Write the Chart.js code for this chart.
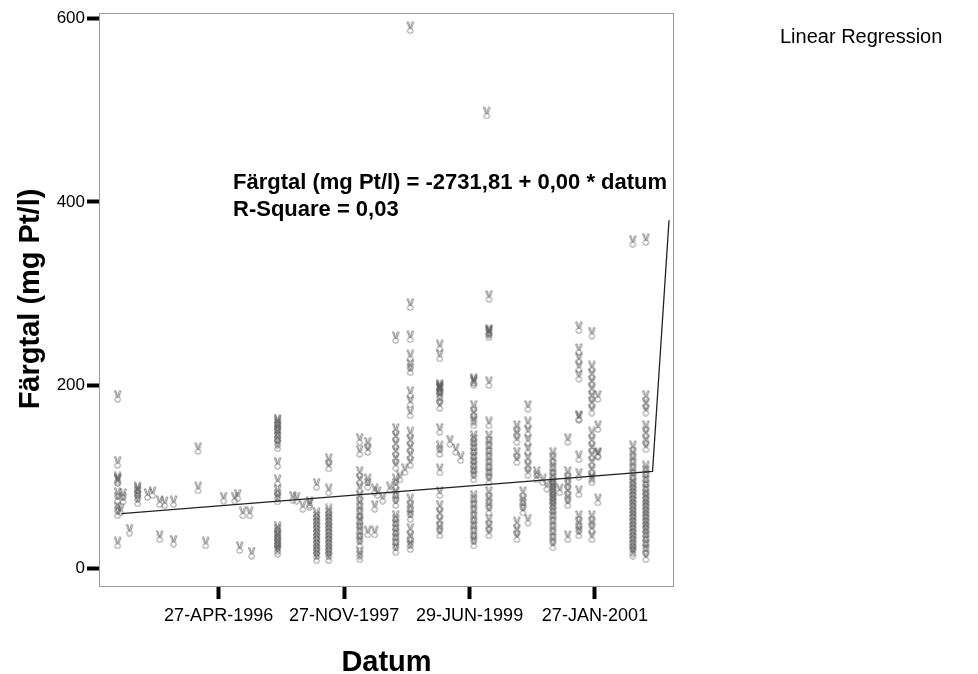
<!DOCTYPE html>
<html>
<head>
<meta charset="utf-8">
<script src="https://cdn.jsdelivr.net/npm/chart.js@4.4.1/dist/chart.umd.min.js"></script>
<style>
  html, body { margin: 0; padding: 0; background: #ffffff; }
  #wrap { width: 978px; height: 674px; }
</style>
</head>
<body>
<div id="wrap"><canvas id="chart" width="978" height="674"></canvas></div>
<script>
// Sampling dates and the colour values (Färgtal, mg Pt/l) measured on each date
const sampleDates = [
  '1995-01-17', '1995-01-31', '1995-02-11', '1995-03-13', '1995-04-19', '1995-06-04',
  '1995-06-27', '1995-07-30', '1995-08-22', '1995-10-02', '1996-01-23', '1996-02-27',
  '1996-05-20', '1996-07-10', '1996-07-24', '1996-08-02', '1996-08-16', '1996-09-17',
  '1996-09-26', '1997-01-24', '1997-04-04', '1997-04-22', '1997-05-20', '1997-06-21',
  '1997-07-23', '1997-09-17', '1998-02-07', '1998-03-16', '1998-04-17', '1998-05-01',
  '1998-05-24', '1998-06-26', '1998-07-23', '1998-08-11', '1998-09-03', '1998-09-28',
  '1999-02-11', '1999-03-30', '1999-04-26', '1999-05-19', '1999-07-18', '1999-09-16',
  '1999-09-26', '2000-02-02', '2000-03-01', '2000-03-24', '2000-05-04', '2000-06-01',
  '2000-06-19', '2000-07-17', '2000-08-18', '2000-09-24', '2000-11-14', '2001-01-13',
  '2001-02-10', '2001-07-21', '2001-09-19'
];

const colourValues = [
  [188, 116, 99, 97, 96, 82, 77, 66, 61, 28],
  [64],
  [81, 76],
  [42],
  [88, 86, 83, 79, 74],
  [81],
  [83],
  [73, 35],
  [72],
  [73, 30],
  [131, 88],
  [28],
  [77],
  [77],
  [80],
  [23],
  [61],
  [61],
  [17],
  [162, 160, 157, 154, 150, 147, 143, 138, 134, 115, 96, 85, 80, 76, 45, 42, 38, 35, 31, 28, 25, 22, 19],
  [78],
  [77],
  [68],
  [72, 70],
  [92, 60, 56, 52, 48, 44, 40, 36, 32, 28, 24, 20, 16, 12],
  [119, 112, 86, 64, 60, 56, 52, 48, 44, 40, 36, 32, 28, 24, 20, 16, 12],
  [141, 128, 105, 97, 88, 79, 72, 66, 60, 54, 50, 44, 39, 33, 28, 17, 13],
  [137, 130, 97, 92, 40],
  [86, 68, 40],
  [83],
  [77],
  [88],
  [252, 152, 144, 136, 128, 120, 113, 97, 92, 83, 78, 72, 57, 52, 47, 42, 37, 32, 26, 21],
  [100],
  [108],
  [590, 288, 253, 232, 222, 217, 192, 182, 170, 148, 140, 132, 124, 116, 75, 68, 62, 57, 43, 35, 28, 24],
  [243, 232, 200, 199, 197, 196, 195, 190, 185, 178, 152, 133, 128, 108, 83, 68, 60, 52, 45, 39],
  [139],
  [130],
  [121],
  [206, 205, 203, 177, 170, 163, 159, 144, 140, 135, 130, 125, 120, 115, 110, 105, 100, 79, 74, 68, 62, 56, 50, 45, 39, 33, 28],
  [497],
  [297, 260, 259, 258, 255, 203, 159, 144, 138, 132, 126, 120, 114, 108, 103, 97, 83, 76, 70, 64, 53, 46, 39],
  [155, 148, 141, 126, 119, 50, 42, 35],
  [83, 75, 70, 64],
  [177, 159, 150, 140, 130, 120, 112, 105, 53],
  [105, 100],
  [97],
  [90],
  [126, 120, 113, 108, 102, 97, 93, 90, 87, 84, 80, 77, 74, 70, 66, 61, 56, 50, 44, 38, 32, 26],
  [86],
  [141, 105, 98, 92, 85, 78, 72, 35],
  [263, 239, 229, 220, 210, 166, 165, 122, 103, 84, 57, 50, 44, 39],
  [257, 220, 212, 204, 196, 188, 181, 173, 148, 140, 132, 124, 116, 108, 100, 97, 57, 50, 44, 35],
  [188, 155, 126, 125, 75],
  [357, 133, 126, 120, 114, 108, 102, 96, 92, 88, 84, 80, 76, 72, 68, 64, 60, 56, 52, 48, 44, 40, 36, 32, 28, 24, 20, 17],
  [359, 188, 180, 173, 155, 148, 140, 133, 111, 106, 100, 95, 90, 85, 80, 76, 72, 68, 64, 60, 56, 52, 48, 44, 40, 35, 30, 25, 20, 13]
];

// Fitted linear regression line, as drawn by the stats package
const fitDates = ['1995-02-03', '2001-10-20', '2002-01-04'];
const fitValues = [60, 106, 380];

// Axis ticks
const yTicks = [0, 200, 400, 600];
const xTickDates = ['1996-04-27', '1997-11-27', '1999-06-29', '2001-01-27'];
const xTickLabels = ['27-APR-1996', '27-NOV-1997', '29-JUN-1999', '27-JAN-2001'];

// Axis extents
const xMinDate = '1994-10-23';
const xMaxDate = '2002-01-27';
const yMin = -20;
const yMax = 606;

const FONT = '"Liberation Sans", Arial, Helvetica, sans-serif';
const toMs = d => Date.parse(d + 'T00:00:00Z');

const scatterPoints = [];
sampleDates.forEach((d, i) => {
  colourValues[i].forEach(v => scatterPoints.push({ x: toMs(d), y: v }));
});
const fitPoints = fitDates.map((d, i) => ({ x: toMs(d), y: fitValues[i] }));

// Small outlined "victory hand" marker used for every observation
function makeMarker() {
  const g = document.createElement('canvas');
  g.width = 9;
  g.height = 13;
  const c = g.getContext('2d');
  c.strokeStyle = 'rgba(85,85,85,0.72)';
  c.lineWidth = 0.9;
  c.beginPath();
  c.ellipse(4.5, 9.7, 2.8, 2.5, 0, 0, Math.PI * 2);
  c.moveTo(3.7, 7.3); c.lineTo(1.3, 1.0); c.lineTo(2.7, 0.8); c.lineTo(4.5, 6.8);
  c.moveTo(4.6, 6.8); c.lineTo(6.3, 0.8); c.lineTo(7.8, 1.2); c.lineTo(5.7, 7.4);
  c.stroke();
  return g;
}
const marker = makeMarker();

// Frame, axis titles, fit equation and legend caption
const decorations = {
  id: 'decorations',
  beforeDatasetsDraw(chart) {
    const { ctx, chartArea: a } = chart;
    ctx.save();
    ctx.strokeStyle = '#9a9a9a';
    ctx.lineWidth = 1;
    ctx.strokeRect(a.left + 0.5, a.top + 0.5, a.right - a.left - 1, a.bottom - a.top - 1);
    ctx.restore();
  },
  afterDraw(chart) {
    const { ctx, chartArea: a } = chart;
    ctx.save();
    ctx.fillStyle = '#000';

    ctx.font = 'bold 22px ' + FONT;
    ctx.textAlign = 'left';
    ctx.textBaseline = 'alphabetic';
    ctx.fillText('Färgtal (mg Pt/l) = -2731,81 + 0,00 * datum', 233, 189);
    ctx.fillText('R-Square = 0,03', 233, 216);

    ctx.font = '20px ' + FONT;
    ctx.textBaseline = 'middle';
    ctx.fillText('Linear Regression', 780, 37);

    ctx.font = 'bold 29px ' + FONT;
    ctx.textAlign = 'center';
    ctx.fillText('Datum', (a.left + a.right) / 2, 663);

    ctx.translate(31, 299);
    ctx.rotate(-Math.PI / 2);
    ctx.font = 'bold 29px ' + FONT;
    ctx.fillText('Färgtal (mg Pt/l)', 0, 0);
    ctx.restore();
  }
};

new Chart(document.getElementById('chart'), {
  type: 'scatter',
  data: {
    datasets: [
      {
        label: 'Linear Regression',
        data: fitPoints,
        showLine: true,
        borderColor: '#222222',
        borderWidth: 1.3,
        pointRadius: 0,
        fill: false
      },
      {
        label: 'Färgtal (mg Pt/l)',
        data: scatterPoints,
        pointStyle: marker,
        pointRadius: 5,
        pointHoverRadius: 5
      }
    ]
  },
  options: {
    responsive: false,
    animation: false,
    events: [],
    layout: { padding: { top: 13, right: 304, left: 0, bottom: 0 } },
    plugins: {
      legend: { display: false },
      tooltip: { enabled: false },
      title: { display: false }
    },
    scales: {
      x: {
        type: 'linear',
        min: toMs(xMinDate),
        max: toMs(xMaxDate),
        afterBuildTicks: s => { s.ticks = xTickDates.map(d => ({ value: toMs(d) })); },
        afterFit: s => { s.height = 87; },
        border: { display: false },
        grid: {
          display: true,
          drawOnChartArea: false,
          drawTicks: true,
          tickLength: 12,
          tickWidth: 4,
          tickColor: '#000',
          color: '#000'
        },
        ticks: {
          autoSkip: false,
          maxRotation: 0,
          padding: 6,
          color: '#000',
          font: { family: FONT, size: 18 },
          callback: (v, i) => xTickLabels[i]
        }
      },
      y: {
        type: 'linear',
        min: yMin,
        max: yMax,
        afterBuildTicks: s => { s.ticks = yTicks.map(v => ({ value: v })); },
        afterFit: s => { s.width = 99; },
        border: { display: false },
        grid: {
          display: true,
          drawOnChartArea: false,
          drawTicks: true,
          tickLength: 12,
          tickWidth: 4,
          tickColor: '#000',
          color: '#000'
        },
        ticks: {
          padding: 2,
          color: '#000',
          font: { family: FONT, size: 17 },
          callback: v => String(v)
        }
      }
    }
  },
  plugins: [decorations]
});
</script>
</body>
</html>
